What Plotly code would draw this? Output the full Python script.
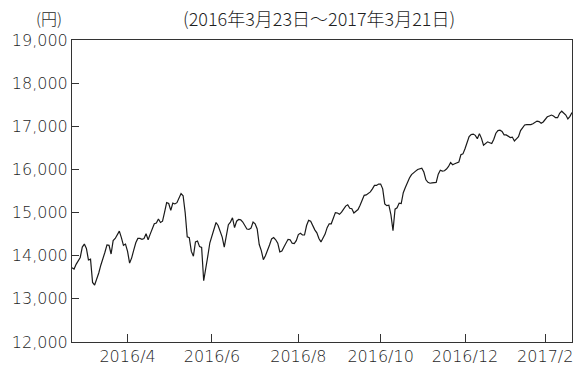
import pandas as pd
import plotly.graph_objects as go

# Trading calendar: weekdays between the start and end dates, minus market holidays
start_date = "2016-03-23"
end_date = "2017-03-21"
market_holidays = [
    "2016-04-29", "2016-05-03", "2016-05-04", "2016-05-05", "2016-07-18",
    "2016-08-11", "2016-09-19", "2016-09-22", "2016-10-10", "2016-11-03",
    "2016-11-23", "2016-12-23", "2017-01-02", "2017-01-03", "2017-01-09",
    "2017-03-20",
]

# Daily closing prices (yen), one per trading day
prices = [
    13720, 13690, 13800, 13900, 13960, 14200, 14270, 14170, 13900, 13920,
    13380, 13320, 13450, 13600, 13780, 13910, 14080, 14250, 14240, 14040,
    14350, 14400, 14500, 14570, 14420, 14240, 14270, 14100, 13830, 13950,
    14130, 14300, 14400, 14400, 14380, 14400, 14510, 14370, 14500, 14620,
    14740, 14760, 14850, 14770, 14800, 15010, 15230, 15210, 15050, 15220,
    15200, 15230, 15340, 15440, 15390, 15000, 14440, 14420, 14100, 13990,
    14320, 14340, 14210, 14190, 13420, 13760, 13990, 14300, 14460, 14620,
    14770, 14700, 14550, 14430, 14200, 14480, 14720, 14780, 14880, 14650,
    14800, 14840, 14830, 14780, 14680, 14620, 14610, 14640, 14780, 14740,
    14620, 14260, 14120, 13910, 14000, 14150, 14250, 14390, 14420, 14370,
    14290, 14090, 14110, 14200, 14290, 14380, 14370, 14290, 14280, 14350,
    14490, 14520, 14480, 14480, 14700, 14820, 14800, 14680, 14600, 14530,
    14400, 14320, 14420, 14500, 14650, 14740, 14740, 14880, 15000, 14990,
    14960, 15010, 15070, 15150, 15180, 15100, 15090, 14990, 15030, 15070,
    15170, 15290, 15400, 15410, 15440, 15480, 15550, 15630, 15630, 15660,
    15660, 15550, 15200, 15160, 15170, 14950, 14580, 15080, 15110, 15220,
    15210, 15460, 15580, 15700, 15800, 15880, 15930, 15960, 16000, 16020,
    16030, 15940, 15760, 15700, 15680, 15690, 15690, 15700, 15890, 15980,
    15960, 15970, 16010, 16070, 16160, 16110, 16130, 16150, 16170, 16340,
    16360, 16480, 16640, 16760, 16810, 16820, 16790, 16710, 16830, 16720,
    16560, 16600, 16640, 16620, 16600, 16700, 16840, 16900, 16910, 16880,
    16800, 16800, 16770, 16740, 16750, 16660, 16710, 16760, 16900, 16980,
    17030, 17040, 17040, 17040, 17060, 17100, 17120, 17110, 17070, 17100,
    17150, 17220, 17240, 17260, 17240, 17200, 17200, 17300, 17350, 17300,
    17260, 17170, 17230, 17320,
]

# Axis labels: each tick marks the close of the labelled month
tick_months = ["2016-04", "2016-06", "2016-08", "2016-10", "2016-12", "2017-02"]
tick_labels = ["2016/4", "2016/6", "2016/8", "2016/10", "2016/12", "2017/2"]
y_ticks = [12000, 13000, 14000, 15000, 16000, 17000, 18000, 19000]

days = pd.bdate_range(start_date, end_date)
days = days[~days.isin(pd.to_datetime(market_holidays))]
dates = [d.strftime("%Y-%m-%d") for d in days]

# first trading day after each labelled month
tick_vals = []
for m in tick_months:
    nxt = (pd.Period(m, "M") + 1).start_time
    tick_vals.append(days[days >= nxt][0].strftime("%Y-%m-%d"))

NUM_FONT = "DejaVu Sans, Noto Sans CJK JP, sans-serif"
JP_FONT = "Noto Sans CJK JP Light, Noto Sans CJK JP, sans-serif"
INK = "#333333"
TEXT = "#1f1f1f"
tick_font = dict(family=NUM_FONT, size=16, color=TEXT, weight=200)

fig = go.Figure(
    go.Scatter(
        x=dates, y=prices, mode="lines",
        line=dict(color="#1a1a1a", width=1.2),
        hoverinfo="skip",
    )
)

fig.update_layout(
    width=573, height=368,
    margin=dict(l=72, r=1, t=40, b=26),
    paper_bgcolor="white", plot_bgcolor="white",
    showlegend=False,
    font=dict(family=JP_FONT, size=15, color=TEXT),
    xaxis=dict(
        type="category", range=[0, len(dates) - 1],
        tickmode="array", tickvals=tick_vals, ticktext=tick_labels,
        ticks="inside", ticklen=8, tickcolor=INK, tickwidth=1,
        showline=True, linecolor=INK, linewidth=1, mirror=True,
        showgrid=False, zeroline=False,
        tickfont=tick_font,
    ),
    yaxis=dict(
        range=[12000, 19000], tickmode="array", tickvals=y_ticks,
        tickformat=",d",
        ticks="inside", ticklen=7, tickcolor=INK, tickwidth=1,
        showline=True, linecolor=INK, linewidth=1, mirror=True,
        showgrid=False, zeroline=False,
        tickfont=tick_font,
    ),
    annotations=[
        dict(text="(円)", x=48.5, y=18,
             font=dict(family=JP_FONT, size=16, color=TEXT, weight=300)),
        dict(text="(2016年3月23日～2017年3月21日)", x=319, y=18,
             font=dict(family=JP_FONT, size=18, color=TEXT, weight=300)),
    ],
)

# annotation positions given in pixels; convert to paper coordinates
pw, ph = 573 - 72 - 1, 368 - 40 - 26
for a in fig.layout.annotations:
    a.update(xref="paper", yref="paper", showarrow=False,
             xanchor="center", yanchor="middle",
             x=(a.x - 72) / pw, y=1 + (40 - a.y) / ph)

fig.write_html("out.html")
